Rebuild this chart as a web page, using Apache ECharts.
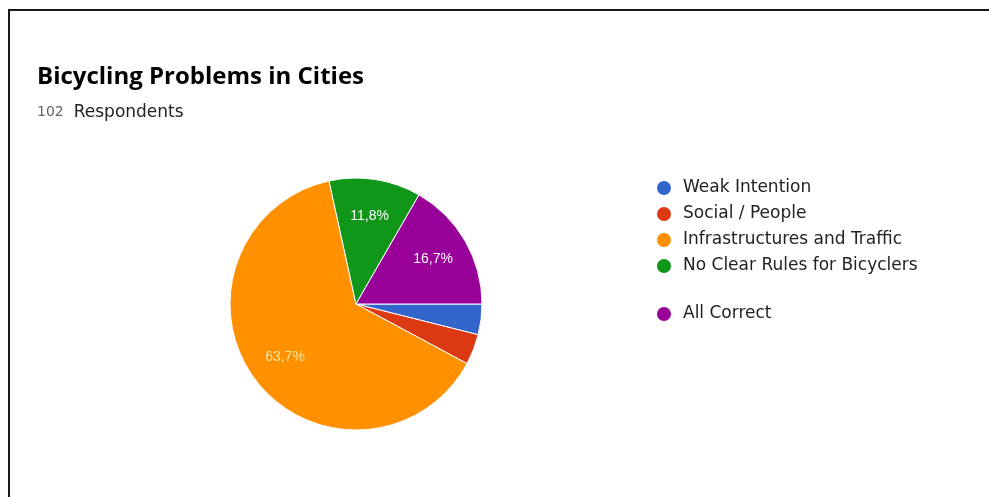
<!DOCTYPE html>
<html>
<head>
<meta charset="utf-8">
<script src="https://cdn.jsdelivr.net/npm/echarts@6/dist/echarts.min.js"></script>
<style>
  html, body { margin: 0; padding: 0; background: #fff; }
  #chart { width: 989px; height: 497px; }
</style>
</head>
<body>
<div id="chart"></div>
<script>
// respondents per answer (102 total)
const categories = [
  "Weak Intention",
  "Social / People",
  "Infrastructures and Traffic",
  "No Clear Rules for Bicyclers",
  "All Correct"
];
const counts = [4, 4, 65, 12, 17];
const colors = ["#3366cc", "#dc3912", "#ff9100", "#109618", "#990099"];
const labelColors = ["#fff", "#fff", "#f5e39a", "#fff", "#fff"];

const chart = echarts.init(document.getElementById("chart"), null, { renderer: "canvas" });

const legendText = {
  fontFamily: "DejaVu Sans",
  fontSize: 17,
  lineHeight: 18,
  color: "#222",
  padding: [0, 0, 0, 6]
};

const option = {
  backgroundColor: "#fff",
  animation: false,
  title: {
    text: "Bicycling Problems in Cities",
    subtext: "{n|102}{t|Respondents}",
    left: 32,
    top: 60,
    itemGap: 15,
    textStyle: { fontFamily: "Open Sans", fontWeight: "bold", fontSize: 24, color: "#000" },
    subtextStyle: {
      rich: {
        n: { fontFamily: "DejaVu Sans", fontSize: 14, color: "#666", padding: [0, 10, 0, 0] },
        t: { fontFamily: "DejaVu Sans", fontSize: 17, color: "#222" }
      }
    }
  },
  legend: [
    {
      data: categories.slice(0, 4),
      orient: "vertical",
      left: 650,
      top: 174,
      icon: "circle",
      itemWidth: 16,
      itemHeight: 16,
      itemGap: 8,
      textStyle: legendText
    },
    {
      data: categories.slice(4),
      orient: "vertical",
      left: 650,
      top: 300,
      icon: "circle",
      itemWidth: 16,
      itemHeight: 16,
      textStyle: legendText
    }
  ],
  graphic: [
    {
      type: "rect",
      shape: { x: 9, y: 10, width: 1200, height: 800 },
      style: { fill: null, stroke: "#1a1a1a", lineWidth: 2 },
      silent: true
    }
  ],
  series: [
    {
      type: "pie",
      center: [356, 304],
      radius: [0, 126],
      startAngle: 0,
      clockwise: true,
      legendHoverLink: false,
      itemStyle: { borderColor: "#fff", borderWidth: 1 },
      label: { show: false },
      labelLine: { show: false },
      data: categories.map((name, i) => ({
        name,
        value: counts[i],
        itemStyle: { color: colors[i] }
      }))
    },
    {
      // transparent ring used only to place the percentage labels further out
      type: "pie",
      center: [356, 304],
      radius: [46, 126],
      startAngle: 0,
      clockwise: true,
      silent: true,
      percentPrecision: 1,
      itemStyle: { color: "transparent", borderWidth: 0 },
      label: {
        show: true,
        position: "inside",
        fontFamily: "Liberation Sans",
        fontSize: 14,
        formatter: (p) => (p.percent < 10 ? "" : p.percent.toFixed(1).replace(".", ",") + "%")
      },
      labelLine: { show: false },
      data: categories.map((name, i) => ({
        name,
        value: counts[i],
        itemStyle: { color: "transparent" },
        label: { color: labelColors[i] }
      }))
    }
  ]
};

chart.setOption(option);
</script>
</body>
</html>
